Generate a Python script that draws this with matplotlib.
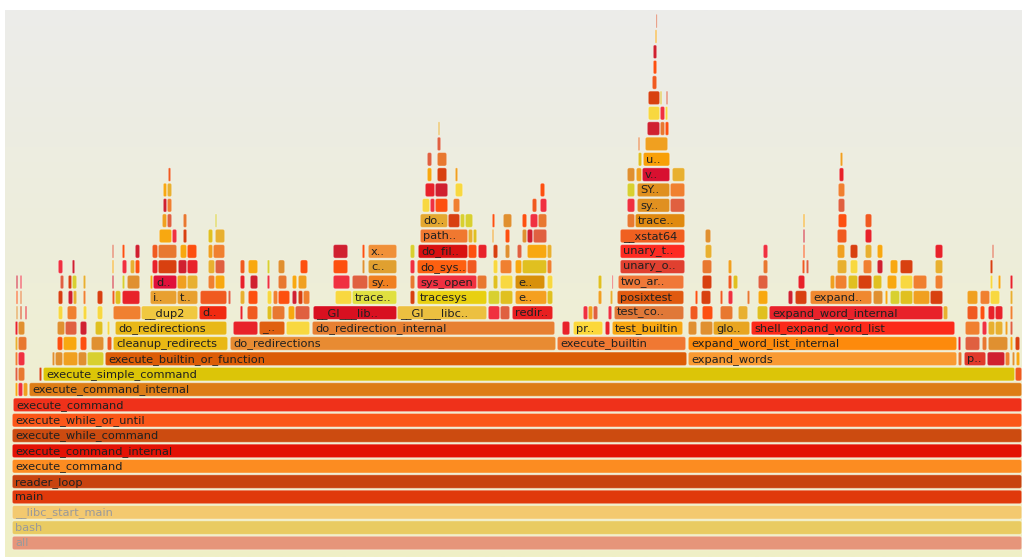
import matplotlib.pyplot as plt
import numpy as np
from matplotlib.patches import FancyBboxPatch
from matplotlib.colors import to_rgb

# flame graph of bash: each row is one stack depth, entries are (start, width, name)
# in samples; unlabeled entries are frames too narrow to carry a label
depth_00 = [(0, 1010, 'all')]
depth_01 = [(0, 1010, 'bash')]
depth_02 = [(0, 1010, '__libc_start_main')]
depth_03 = [(0, 1010, 'main')]
depth_04 = [(0, 1010, 'reader_loop')]
depth_05 = [(0, 1010, 'execute_command')]
depth_06 = [(0, 1010, 'execute_command_internal')]
depth_07 = [(0, 1010, 'execute_while_command')]
depth_08 = [(0, 1010, 'execute_while_or_until')]
depth_09 = [(1, 1009, 'execute_command')]
depth_10 = [(3, 3, ''), (6, 5, ''), (11, 5, ''), (17, 993, 'execute_command_internal')]
depth_11 = [(3, 3, ''), (6, 7, ''), (27, 3, ''), (31, 972, 'execute_simple_command'), (1003, 7, '')]
depth_12 = [(3, 3, ''), (6, 7, ''), (40, 3, ''), (43, 8, ''), (51, 15, ''), (66, 9, ''),
            (75, 17, ''), (93, 582, 'execute_builtin_or_function'), (676, 269, 'expand_words'),
            (946, 4, ''), (952, 22, 'p..'), (975, 18, ''), (993, 5, ''), (1000, 3, ''), (1004, 4, '')]
depth_13 = [(3, 3, ''), (6, 9, ''), (45, 6, ''), (51, 14, ''), (68, 7, ''), (79, 13, ''),
            (95, 5, ''), (101, 115, 'cleanup_redirects'), (218, 326, 'do_redirections'),
            (545, 129, 'execute_builtin'), (676, 269, 'expand_word_list_internal'),
            (946, 3, ''), (953, 15, ''), (970, 5, ''), (976, 20, ''), (998, 3, ''), (1003, 5, '')]
depth_14 = [(3, 3, ''), (6, 7, ''), (45, 8, ''), (53, 12, ''), (68, 7, ''), (83, 8, ''),
            (95, 3, ''), (103, 112, 'do_redirections'), (221, 25, ''), (247, 26, '_..'),
            (274, 24, ''), (300, 243, 'do_redirection_internal'), (550, 8, ''), (561, 30, 'pr..'),
            (593, 5, ''), (600, 71, 'test_builtin'), (676, 9, ''), (688, 13, ''), (701, 37, 'glo..'),
            (739, 204, 'shell_expand_word_list'), (953, 15, ''), (970, 5, ''), (976, 7, ''),
            (983, 8, ''), (993, 3, ''), (998, 3, '')]
depth_15 = [(4, 2, ''), (8, 2, ''), (13, 2, ''), (46, 5, ''), (55, 10, ''), (71, 4, ''),
            (85, 6, ''), (101, 28, ''), (129, 57, '__dup2'), (187, 28, 'd..'), (228, 3, ''),
            (235, 11, ''), (255, 5, ''), (260, 13, ''), (276, 7, ''), (283, 15, ''),
            (301, 84, '__GI___lib..'), (385, 90, '__GI___libc..'), (476, 12, ''), (488, 10, ''),
            (500, 41, 'redir..'), (571, 5, ''), (576, 5, ''), (581, 5, ''), (596, 4, ''),
            (602, 70, 'test_co..'), (678, 8, ''), (690, 11, ''), (708, 13, ''), (726, 10, ''),
            (745, 11, ''), (757, 174, 'expand_word_internal'), (931, 5, ''), (955, 11, ''),
            (968, 5, ''), (976, 7, ''), (983, 8, ''), (998, 3, '')]
depth_16 = [(4, 2, ''), (8, 2, ''), (46, 5, ''), (56, 5, ''), (61, 4, ''), (71, 3, ''),
            (85, 6, ''), (100, 3, ''), (103, 6, ''), (110, 18, ''), (138, 27, 'i..'),
            (165, 21, 't..'), (188, 27, ''), (216, 3, ''), (228, 5, ''), (236, 10, ''),
            (255, 5, ''), (261, 5, ''), (266, 12, ''), (280, 5, ''), (286, 5, ''), (291, 7, ''),
            (323, 17, ''), (340, 45, 'trace..'), (398, 5, ''), (405, 70, 'tracesys'),
            (476, 12, ''), (488, 13, ''), (503, 32, 'e..'), (535, 6, ''), (586, 4, ''),
            (598, 3, ''), (605, 67, 'posixtest'), (683, 3, ''), (689, 10, ''), (708, 3, ''),
            (716, 5, ''), (735, 3, ''), (746, 10, ''), (776, 5, ''), (783, 12, ''),
            (798, 62, 'expand..'), (861, 10, ''), (873, 3, ''), (878, 10, ''), (888, 13, ''),
            (901, 17, ''), (918, 13, ''), (955, 11, ''), (968, 10, ''), (978, 10, ''), (998, 3, '')]
depth_17 = [(4, 2, ''), (8, 2, ''), (48, 4, ''), (56, 4, ''), (60, 5, ''), (71, 3, ''),
            (100, 2, ''), (110, 3, ''), (115, 13, ''), (138, 3, ''), (141, 24, 'd..'),
            (165, 10, ''), (175, 11, ''), (196, 7, ''), (203, 10, ''), (228, 5, ''), (238, 8, ''),
            (255, 3, ''), (266, 9, ''), (280, 5, ''), (286, 9, ''), (321, 17, ''), (340, 16, ''),
            (356, 29, 'sy..'), (398, 5, ''), (405, 60, 'sys_open'), (465, 10, ''), (481, 5, ''),
            (488, 13, ''), (503, 30, 'e..'), (535, 6, ''), (586, 4, ''), (600, 1, ''),
            (606, 66, 'two_ar..'), (690, 10, ''), (716, 4, ''), (721, 5, ''), (746, 10, ''),
            (786, 7, ''), (818, 5, ''), (823, 12, ''), (836, 10, ''), (846, 14, ''), (861, 9, ''),
            (875, 10, ''), (888, 13, ''), (901, 14, ''), (923, 8, ''), (978, 3, ''), (986, 3, ''),
            (998, 3, '')]
depth_18 = [(46, 5, ''), (60, 3, ''), (100, 2, ''), (110, 5, ''), (118, 5, ''), (123, 5, ''),
            (140, 6, ''), (146, 19, ''), (166, 9, ''), (175, 11, ''), (196, 7, ''), (203, 10, ''),
            (228, 5, ''), (236, 10, ''), (255, 3, ''), (266, 7, ''), (288, 8, ''), (321, 15, ''),
            (350, 3, ''), (356, 29, 'c..'), (398, 5, ''), (405, 50, 'do_sys..'), (455, 10, ''),
            (481, 5, ''), (488, 12, ''), (503, 7, ''), (510, 25, ''), (535, 5, ''),
            (608, 65, 'unary_o..'), (690, 10, ''), (716, 4, ''), (751, 5, ''), (790, 3, ''),
            (794, 3, ''), (825, 10, ''), (838, 8, ''), (851, 9, ''), (865, 6, ''), (878, 8, ''),
            (888, 13, ''), (923, 8, ''), (978, 3, '')]
depth_19 = [(100, 2, ''), (110, 3, ''), (123, 5, ''), (140, 6, ''), (146, 19, ''), (168, 7, ''),
            (175, 10, ''), (196, 5, ''), (201, 12, ''), (321, 15, ''), (350, 3, ''),
            (356, 29, 'x..'), (398, 5, ''), (406, 50, 'do_fil..'), (456, 9, ''), (466, 9, ''),
            (481, 5, ''), (493, 5, ''), (505, 5, ''), (515, 20, ''), (535, 5, ''),
            (608, 65, 'unary_t..'), (693, 7, ''), (751, 5, ''), (791, 2, ''), (825, 8, ''),
            (838, 8, ''), (853, 7, ''), (865, 6, ''), (923, 8, ''), (980, 2, '')]
depth_20 = [(147, 13, ''), (160, 5, ''), (171, 4, ''), (196, 5, ''), (203, 10, ''),
            (408, 48, 'path..'), (456, 5, ''), (461, 4, ''), (480, 2, ''), (493, 5, ''),
            (510, 5, ''), (515, 6, ''), (521, 14, ''), (608, 65, '__xstat64'), (693, 6, ''),
            (791, 2, ''), (825, 10, ''), (853, 7, '')]
depth_21 = [(150, 5, ''), (155, 5, ''), (171, 4, ''), (203, 2, ''), (408, 28, 'do..'),
            (436, 12, ''), (448, 5, ''), (453, 8, ''), (480, 3, ''), (491, 9, ''), (510, 5, ''),
            (518, 8, ''), (526, 9, ''), (615, 8, ''), (623, 50, 'trace..'), (791, 2, ''),
            (826, 9, ''), (853, 7, '')]
depth_22 = [(151, 4, ''), (155, 5, ''), (410, 8, ''), (418, 5, ''), (423, 13, ''), (441, 7, ''),
            (520, 5, ''), (528, 7, ''), (615, 8, ''), (625, 33, 'sy..'), (658, 15, ''), (826, 7, '')]
depth_23 = [(151, 4, ''), (155, 5, ''), (413, 10, ''), (423, 13, ''), (443, 8, ''), (528, 5, ''),
            (615, 8, ''), (625, 33, 'SY..'), (658, 15, ''), (826, 7, '')]
depth_24 = [(156, 3, ''), (415, 5, ''), (425, 10, ''), (443, 3, ''), (615, 8, ''), (624, 6, ''),
            (630, 28, 'v..'), (660, 13, ''), (827, 5, '')]
depth_25 = [(415, 5, ''), (425, 10, ''), (626, 4, ''), (631, 27, 'u..'), (828, 3, '')]
depth_26 = [(425, 4, ''), (626, 2, ''), (633, 23, '')]
depth_27 = [(426, 2, ''), (635, 13, ''), (648, 5, ''), (653, 4, '')]
depth_28 = [(636, 12, ''), (648, 5, ''), (653, 3, '')]
depth_29 = [(636, 12, ''), (648, 2, ''), (654, 2, '')]
depth_30 = [(640, 5, '')]
depth_31 = [(641, 4, '')]
depth_32 = [(641, 4, '')]
depth_33 = [(643, 2, '')]
depth_34 = [(644, 1, '')]

rows = [depth_00, depth_01, depth_02, depth_03, depth_04, depth_05, depth_06, depth_07,
        depth_08, depth_09, depth_10, depth_11, depth_12, depth_13, depth_14, depth_15,
        depth_16, depth_17, depth_18, depth_19, depth_20, depth_21, depth_22, depth_23,
        depth_24, depth_25, depth_26, depth_27, depth_28, depth_29, depth_30, depth_31,
        depth_32, depth_33, depth_34]

# colours of the labeled frames, keyed by (depth, name)
label_colors = {
    (0, 'all'): '#e6957a', (1, 'bash'): '#e9cb62', (2, '__libc_start_main'): '#f3c96f',
    (3, 'main'): '#e0390b', (4, 'reader_loop'): '#c8430f', (5, 'execute_command'): '#fc8c21',
    (6, 'execute_command_internal'): '#e31204', (7, 'execute_while_command'): '#cc4b10',
    (8, 'execute_while_or_until'): '#fb5718', (9, 'execute_command'): '#ef311a',
    (10, 'execute_command_internal'): '#dd7d16', (11, 'execute_simple_command'): '#dcc508',
    (12, 'execute_builtin_or_function'): '#dc5d07', (12, 'expand_words'): '#f99a32',
    (12, 'p..'): '#e03a2a',
    (13, 'cleanup_redirects'): '#e9b814', (13, 'do_redirections'): '#e88b32',
    (13, 'execute_builtin'): '#f07832', (13, 'expand_word_list_internal'): '#fd8a0c',
    (14, 'do_redirections'): '#e8b818', (14, '_..'): '#e06010',
    (14, 'do_redirection_internal'): '#e78032', (14, 'pr..'): '#fcd83a',
    (14, 'test_builtin'): '#f8a812', (14, 'glo..'): '#e8a520',
    (14, 'shell_expand_word_list'): '#fc2a1a',
    (15, '__dup2'): '#f0c840', (15, 'd..'): '#f02a10', (15, '__GI___lib..'): '#d81020',
    (15, '__GI___libc..'): '#ecc040', (15, 'redir..'): '#e82020', (15, 'test_co..'): '#e07838',
    (15, 'expand_word_internal'): '#e8222a',
    (16, 'i..'): '#e8a030', (16, 't..'): '#e8a030', (16, 'trace..'): '#e0e040',
    (16, 'tracesys'): '#e8d010', (16, 'e..'): '#f5a020', (16, 'posixtest'): '#e05a10',
    (16, 'expand..'): '#f08830',
    (17, 'd..'): '#e0103a', (17, 'sy..'): '#f08020', (17, 'sys_open'): '#f03040',
    (17, 'e..'): '#d8900a', (17, 'two_ar..'): '#f07838',
    (18, 'c..'): '#e0a030', (18, 'do_sys..'): '#fd6010', (18, 'unary_o..'): '#e04030',
    (19, 'x..'): '#f09038', (19, 'do_fil..'): '#d81010', (19, 'unary_t..'): '#fd2a20',
    (20, 'path..'): '#f07830', (20, '__xstat64'): '#f06020',
    (21, 'do..'): '#e4a830', (21, 'trace..'): '#e08a10',
    (22, 'sy..'): '#e09020', (23, 'SY..'): '#e0901e', (24, 'v..'): '#d81030',
    (25, 'u..'): '#f8a008',
}
# hot palette for the small unlabeled frames
hot_palette = ['#e8222a', '#f05a20', '#f0a020', '#e0c020', '#f8d840', '#d84010', '#e87830',
               '#f03040', '#d8d030', '#e09030', '#fd5010', '#d02030', '#f8a810', '#e06040',
               '#f08030', '#e8b030']
faded = {0, 1, 2}

W, H = 1022, 557
fig = plt.figure(figsize=(W / 100, H / 100), dpi=100)
fig.patch.set_facecolor('white')

# background panel with vertical gradient
bg = fig.add_axes([5 / W, 0, (W - 5) / W, (H - 10) / H])
top = np.array(to_rgb('#ececea'))
bot = np.array(to_rgb('#f0f0c6'))
t = np.linspace(0, 1, 256)[:, None]
grad = top[None, :] * (1 - t) + bot[None, :] * t
bg.imshow(grad[:, None, :], aspect='auto', interpolation='bilinear')
bg.set_axis_off()

ax = fig.add_axes([0, 0, 1, 1])
ax.patch.set_alpha(0)
ax.set_axis_off()
ax.set_xlim(-12, 1010)
ax.set_ylim(-0.412, 35.875)
aspect = (35.875 + 0.412) / H

for depth, row in enumerate(rows):
    for start, width, name in row:
        if name:
            color = label_colors[(depth, name)]
        else:
            color = hot_palette[(start * 31 + depth * 17 + width * 7) % len(hot_palette)]
        w = max(width - 0.6, 0.8)
        r = min(2.0, w / 2.5)
        box = FancyBboxPatch((start + 0.3, depth + 0.06), w, 0.88,
                             boxstyle=f'round,pad=0,rounding_size={r}',
                             mutation_aspect=aspect, facecolor=color,
                             edgecolor=(1, 1, 1, 0.35), linewidth=0.7)
        ax.add_patch(box)
        if name:
            ax.text(start + 3, depth + 0.47, name, fontsize=8.2, va='center', ha='left',
                    color='#9a9a9a' if depth in faded else '#202020',
                    family='DejaVu Sans')

fig.savefig('out.png', dpi=100)
